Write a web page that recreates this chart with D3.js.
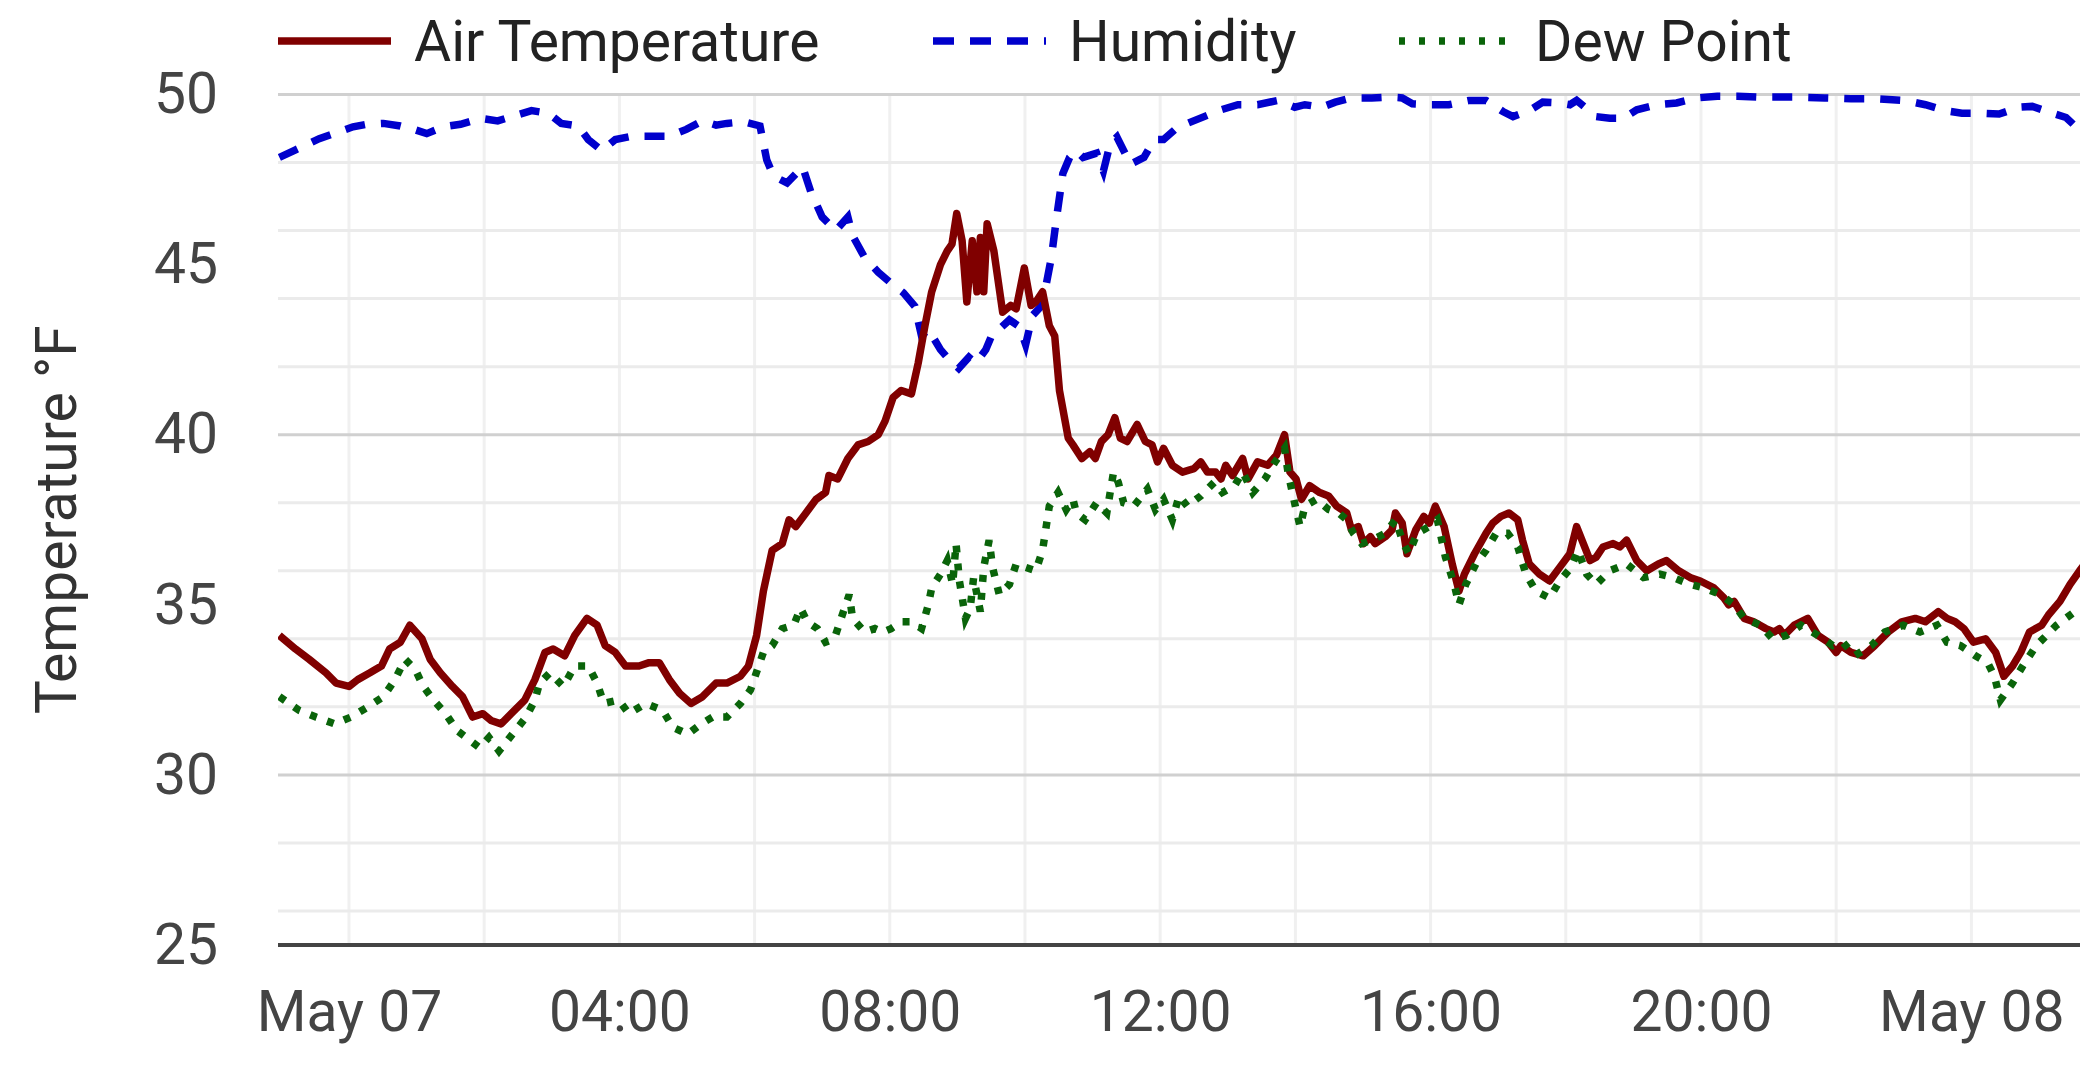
<!DOCTYPE html>
<html>
<head>
<meta charset="utf-8">
<script src="https://cdn.jsdelivr.net/npm/d3@7"></script>
<style>
	body { margin: 0; background: #fff; }
	svg { display: block; font-family: Roboto, "Noto Sans", sans-serif; }
</style>
</head>
<body>
<div id="chart"></div>
<script>
// hours after May 07 00:00, value
const air_temp = [
	[-1.03,34.1],[-0.79,33.7],[-0.59,33.4],[-0.34,33.0],[-0.19,32.7],[0.0,32.6],[0.13,32.8],[0.31,33.0],
	[0.48,33.2],[0.6,33.7],[0.76,33.9],[0.9,34.4],[1.08,34.0],[1.2,33.4],[1.35,33.0],[1.53,32.6],
	[1.68,32.3],[1.83,31.7],[1.98,31.8],[2.1,31.6],[2.25,31.5],[2.4,31.8],[2.6,32.2],[2.75,32.8],
	[2.9,33.6],[3.02,33.7],[3.19,33.5],[3.34,34.1],[3.52,34.6],[3.67,34.4],[3.79,33.8],[3.94,33.6],
	[4.09,33.2],[4.29,33.2],[4.44,33.3],[4.59,33.3],[4.74,32.8],[4.89,32.4],[5.06,32.1],[5.23,32.3],
	[5.43,32.7],[5.59,32.7],[5.79,32.9],[5.91,33.2],[6.03,34.1],[6.13,35.4],[6.26,36.6],[6.41,36.8],
	[6.51,37.5],[6.61,37.3],[6.76,37.7],[6.91,38.1],[7.05,38.3],[7.1,38.8],[7.23,38.7],[7.38,39.3],
	[7.53,39.7],[7.68,39.8],[7.83,40.0],[7.93,40.4],[8.05,41.1],[8.17,41.3],[8.32,41.2],[8.42,42.1],
	[8.52,43.2],[8.62,44.2],[8.75,45.0],[8.85,45.4],[8.92,45.6],[8.99,46.5],[9.07,45.7],[9.14,43.9],
	[9.22,45.7],[9.29,44.2],[9.34,45.8],[9.39,44.2],[9.44,46.2],[9.54,45.4],[9.67,43.6],[9.79,43.8],
	[9.87,43.7],[9.99,44.9],[10.09,43.8],[10.16,43.9],[10.26,44.2],[10.36,43.2],[10.44,42.9],[10.51,41.3],
	[10.64,39.9],[10.71,39.7],[10.84,39.3],[10.96,39.5],[11.04,39.3],[11.13,39.8],[11.23,40.0],[11.33,40.5],
	[11.41,39.9],[11.51,39.8],[11.66,40.3],[11.78,39.8],[11.88,39.7],[11.96,39.2],[12.05,39.6],[12.18,39.1],
	[12.33,38.9],[12.5,39.0],[12.6,39.2],[12.7,38.9],[12.82,38.9],[12.9,38.7],[12.97,39.1],[13.07,38.8],
	[13.22,39.3],[13.3,38.7],[13.44,39.2],[13.59,39.1],[13.72,39.4],[13.84,40.0],[13.92,38.9],[14.01,38.7],
	[14.09,38.1],[14.21,38.5],[14.36,38.3],[14.49,38.2],[14.61,37.9],[14.76,37.7],[14.83,37.2],[14.93,37.3],
	[15.01,36.8],[15.11,37.0],[15.18,36.8],[15.33,37.0],[15.43,37.2],[15.48,37.7],[15.58,37.4],[15.65,36.5],
	[15.78,37.2],[15.9,37.6],[15.98,37.4],[16.07,37.9],[16.2,37.3],[16.32,36.2],[16.42,35.4],[16.5,35.9],
	[16.65,36.5],[16.82,37.1],[16.92,37.4],[17.04,37.6],[17.16,37.7],[17.29,37.5],[17.36,36.9],[17.46,36.2],
	[17.61,35.9],[17.76,35.7],[17.91,36.1],[18.06,36.5],[18.16,37.3],[18.26,36.8],[18.36,36.3],[18.45,36.4],
	[18.55,36.7],[18.7,36.8],[18.8,36.7],[18.9,36.9],[19.05,36.3],[19.2,36.0],[19.37,36.2],[19.49,36.3],
	[19.67,36.0],[19.84,35.8],[19.99,35.7],[20.19,35.5],[20.34,35.2],[20.41,35.0],[20.49,35.1],[20.64,34.6],
	[20.78,34.5],[20.96,34.3],[21.08,34.2],[21.16,34.3],[21.23,34.1],[21.38,34.4],[21.58,34.6],[21.73,34.1],
	[21.88,33.9],[22.0,33.6],[22.07,33.8],[22.22,33.6],[22.4,33.5],[22.57,33.8],[22.77,34.2],[22.97,34.5],
	[23.17,34.6],[23.32,34.5],[23.51,34.8],[23.64,34.6],[23.76,34.5],[23.89,34.3],[24.03,33.9],[24.21,34.0],
	[24.36,33.6],[24.43,33.2],[24.48,32.9],[24.61,33.2],[24.73,33.6],[24.86,34.2],[25.04,34.4],[25.14,34.7],
	[25.31,35.1],[25.46,35.6],[25.6,36.0],[25.75,36.4]
];

const humidity = [
	[-1.03,92.6],[-0.79,93.5],[-0.44,94.8],[-0.19,95.5],[0.06,96.2],[0.26,96.5],[0.51,96.6],[0.76,96.3],
	[0.96,95.9],[1.15,95.4],[1.4,96.2],[1.65,96.5],[1.95,97.2],[2.2,96.9],[2.45,97.5],[2.7,98.1],
	[2.95,97.8],[3.14,96.6],[3.39,96.3],[3.54,94.7],[3.74,93.4],[3.94,94.7],[4.19,95.1],[4.44,95.1],
	[4.74,95.1],[4.99,95.9],[5.23,96.9],[5.43,96.4],[5.59,96.6],[5.84,96.8],[6.08,96.3],[6.18,92.3],
	[6.28,90.4],[6.48,89.6],[6.71,91.5],[6.83,88.6],[7.0,85.6],[7.2,84.0],[7.38,85.6],[7.45,83.4],
	[7.63,80.8],[7.83,79.1],[8.02,77.8],[8.2,76.7],[8.37,75.1],[8.47,71.6],[8.57,72.4],[8.75,70.0],
	[8.87,68.9],[9.02,67.8],[9.17,69.1],[9.27,68.4],[9.42,70.0],[9.52,71.9],[9.62,72.4],[9.77,73.5],
	[9.92,72.7],[10.01,70.6],[10.11,74.0],[10.24,75.1],[10.31,77.5],[10.39,80.8],[10.46,85.1],[10.56,90.7],
	[10.66,92.6],[10.76,93.4],[10.86,92.6],[11.06,93.1],[11.16,91.0],[11.26,94.2],[11.36,95.0],[11.56,91.8],
	[11.76,92.6],[11.91,94.7],[12.05,94.7],[12.25,96.1],[12.4,96.6],[12.65,97.4],[12.9,98.2],[13.15,98.8],
	[13.44,98.8],[13.74,99.3],[13.99,98.5],[14.14,98.8],[14.39,98.5],[14.59,99.1],[14.83,99.6],[15.13,99.6],
	[15.38,99.7],[15.58,99.6],[15.73,98.9],[15.98,98.8],[16.27,98.8],[16.57,99.3],[16.82,99.3],[17.07,98.0],
	[17.22,97.4],[17.46,98.1],[17.66,99.1],[17.91,99.0],[18.06,98.8],[18.16,99.3],[18.45,97.4],[18.65,97.2],
	[18.85,97.2],[19.05,98.2],[19.35,98.8],[19.64,99.0],[19.94,99.6],[20.24,99.8],[20.54,99.8],[20.83,99.7],
	[21.13,99.7],[21.43,99.7],[21.83,99.6],[22.22,99.5],[22.62,99.5],[23.02,99.3],[23.32,98.8],[23.61,98.1],
	[23.86,97.8],[24.16,97.8],[24.41,97.7],[24.71,98.5],[24.9,98.6],[25.2,97.8],[25.4,97.3],[25.6,95.8],
	[25.75,94.8]
];

const dew_point = [
	[-1.03,32.3],[-0.74,31.9],[-0.49,31.7],[-0.21,31.5],[0.03,31.7],[0.28,32.0],[0.51,32.3],[0.68,32.8],
	[0.83,33.4],[0.98,33.1],[1.1,32.6],[1.25,32.2],[1.43,31.8],[1.6,31.3],[1.8,31.0],[1.93,30.8],
	[2.07,31.1],[2.22,30.7],[2.42,31.2],[2.62,31.7],[2.75,32.2],[2.82,32.7],[2.97,33.0],[3.17,32.6],
	[3.34,33.2],[3.54,33.2],[3.67,32.7],[3.77,32.1],[3.99,32.2],[4.14,31.8],[4.39,32.1],[4.64,31.9],
	[4.79,31.4],[5.01,31.2],[5.21,31.5],[5.38,31.7],[5.59,31.7],[5.79,32.1],[5.94,32.5],[6.06,33.2],
	[6.13,33.6],[6.26,33.8],[6.41,34.3],[6.58,34.4],[6.68,34.9],[6.78,34.5],[6.93,34.3],[7.05,33.9],
	[7.18,34.0],[7.28,34.6],[7.4,35.3],[7.45,34.6],[7.63,34.2],[7.78,34.3],[7.9,34.2],[8.02,34.3],
	[8.17,34.5],[8.32,34.5],[8.47,34.3],[8.57,35.0],[8.62,35.5],[8.75,35.9],[8.85,36.3],[8.93,35.6],
	[8.98,36.8],[9.03,35.7],[9.08,35.1],[9.12,34.6],[9.19,34.9],[9.24,35.8],[9.29,35.3],[9.34,34.8],
	[9.39,36.1],[9.47,36.9],[9.52,36.1],[9.62,35.3],[9.77,35.6],[9.87,36.2],[10.01,36.1],[10.16,36.0],
	[10.26,36.6],[10.36,37.9],[10.49,38.3],[10.61,37.8],[10.71,38.1],[10.76,37.7],[10.89,37.5],[11.06,38.0],
	[11.21,37.7],[11.31,38.9],[11.38,38.6],[11.46,38.0],[11.61,37.9],[11.81,38.4],[11.93,37.8],[12.05,38.1],
	[12.18,37.5],[12.28,38.2],[12.4,37.9],[12.6,38.2],[12.8,38.6],[12.92,38.3],[13.1,38.5],[13.22,38.9],
	[13.37,38.3],[13.55,38.7],[13.7,39.2],[13.84,39.6],[13.89,38.9],[14.01,37.8],[14.07,37.3],[14.14,37.9],
	[14.31,38.1],[14.49,37.8],[14.64,37.7],[14.76,37.5],[14.86,37.1],[14.98,36.8],[15.13,36.9],[15.33,37.1],
	[15.48,37.5],[15.6,36.8],[15.68,36.5],[15.8,37.1],[15.98,37.3],[16.1,37.5],[16.22,36.4],[16.35,35.6],
	[16.42,35.0],[16.52,35.6],[16.67,36.2],[16.82,36.6],[16.97,37.1],[17.14,37.1],[17.29,36.7],[17.41,35.9],
	[17.56,35.4],[17.76,35.2],[17.91,35.7],[18.08,36.1],[18.18,36.6],[18.31,35.9],[18.45,35.6],[18.65,36.0],
	[18.9,36.2],[19.15,35.8],[19.39,35.9],[19.59,35.8],[19.84,35.6],[20.04,35.5],[20.29,35.3],[20.49,35.0],
	[20.64,34.6],[20.88,34.4],[21.06,34.0],[21.26,34.1],[21.48,34.4],[21.73,34.1],[21.95,33.8],[22.1,33.9],
	[22.27,33.5],[22.52,33.8],[22.72,34.2],[22.99,34.4],[23.24,34.2],[23.49,34.4],[23.64,33.9],[23.84,33.8],
	[24.06,33.5],[24.24,33.3],[24.34,32.9],[24.43,32.2],[24.61,32.7],[24.76,33.2],[24.96,33.8],[25.26,34.4],
	[25.53,34.8],[25.75,35.0]
];

const temp_ticks = [25, 30, 35, 40, 45, 50];
const legend_names = ["Air Temperature", "Humidity", "Dew Point"];

// styles
const c_air = '#800000',
	c_hum = '#0000cc',
	c_dew = '#0a640a',
	c_grid_major = '#d0d0d0',
	c_grid_minor = '#ebebeb',
	c_grid_v = '#f0f0f0',
	c_axis = '#444',
	c_text = '#444';

const font_size = 57;
const line_w = 7.5;
const W = 2080, H = 1079;
const plot_left = 278, plot_top = 94.5, plot_bottom = 945;
const hour_px = 67.6;
const h_start = -1.05, h_end = 26.6;

const base = new Date(2019, 4, 7, 0, 0, 0);
function to_date(h) {
	return new Date(base.getTime() + h * 3600e3);
}

function chart() {
	let svg = d3.select("#chart")
		.append("svg")
		.attr("width", W)
		.attr("height", H);

	// scales
	let x = d3.scaleTime()
		.domain([to_date(h_start), to_date(h_end)])
		.range([plot_left, plot_left + (h_end - h_start) * hour_px]);

	let y = d3.scaleLinear()
		.domain([25, 50])
		.range([plot_bottom, plot_top]);

	// humidity lives on a 0-100 % axis sharing the plot height
	let y_hum = d3.scaleLinear()
		.domain([0, 100])
		.range([plot_bottom, plot_top]);

	svg.append("defs").append("clipPath")
		.attr("id", "clip")
		.append("rect")
		.attr("x", plot_left)
		.attr("y", 0)
		.attr("width", W - plot_left)
		.attr("height", plot_bottom + 2);

	// grid
	let grid = svg.append("g").attr("clip-path", "url(#clip)");

	grid.selectAll(".vgrid")
		.data(x.ticks(d3.timeHour.every(2)))
		.enter()
		.append("line")
		.attr("x1", d => x(d))
		.attr("x2", d => x(d))
		.attr("y1", plot_top)
		.attr("y2", plot_bottom)
		.attr("stroke", c_grid_v)
		.attr("stroke-width", 3);

	grid.selectAll(".hgrid")
		.data(y.ticks(10).filter(d => d > 25))
		.enter()
		.append("line")
		.attr("x1", plot_left)
		.attr("x2", W)
		.attr("y1", d => y(d))
		.attr("y2", d => y(d))
		.attr("stroke", d => (d % 5 === 0) ? c_grid_major : c_grid_minor)
		.attr("stroke-width", 3);

	// axes
	let x_axis = svg.append("g")
		.attr("transform", "translate(0," + plot_bottom + ")")
		.call(d3.axisBottom(x)
			.ticks(d3.timeHour.every(4))
			.tickSize(0)
			.tickPadding(46)
			.tickFormat(d => d.getHours() === 0 ? d3.timeFormat("%b %d")(d) : d3.timeFormat("%H:%M")(d))
		);
	x_axis.select(".domain").remove();

	let y_axis = svg.append("g")
		.attr("transform", "translate(" + plot_left + ",0)")
		.call(d3.axisLeft(y)
			.tickValues(temp_ticks)
			.tickSize(0)
			.tickPadding(60)
		);
	y_axis.select(".domain").remove();

	svg.selectAll(".tick text")
		.attr("font-family", "Roboto")
		.attr("font-size", font_size)
		.attr("fill", c_text);

	svg.append("line")
		.attr("x1", plot_left)
		.attr("x2", W)
		.attr("y1", plot_bottom)
		.attr("y2", plot_bottom)
		.attr("stroke", c_axis)
		.attr("stroke-width", 4);

	svg.append("text")
		.attr("transform", "translate(76," + ((plot_top + plot_bottom) / 2) + ") rotate(-90)")
		.attr("text-anchor", "middle")
		.attr("font-size", font_size)
		.attr("fill", "#333")
		.text("Temperature °F");

	// lines
	let plot = svg.append("g").attr("clip-path", "url(#clip)");

	let line_t = d3.line()
		.x(d => x(to_date(d[0])))
		.y(d => y(d[1]));

	let line_h = d3.line()
		.x(d => x(to_date(d[0])))
		.y(d => y_hum(d[1]));

	plot.append("path")
		.datum(humidity)
		.attr("d", line_h)
		.attr("fill", "none")
		.attr("stroke", c_hum)
		.attr("stroke-width", line_w)
		.attr("stroke-dasharray", "20,16");

	plot.append("path")
		.datum(air_temp)
		.attr("d", line_t)
		.attr("fill", "none")
		.attr("stroke", c_air)
		.attr("stroke-width", line_w)
		.attr("stroke-linejoin", "round");

	plot.append("path")
		.datum(dew_point)
		.attr("d", line_t)
		.attr("fill", "none")
		.attr("stroke", c_dew)
		.attr("stroke-width", line_w)
		.attr("stroke-dasharray", "7,11");

	// legend
	const legend_x = [278, 933, 1399];
	const legend_style = [
		{ color: c_air, dash: null },
		{ color: c_hum, dash: "21,16" },
		{ color: c_dew, dash: "6,14" }
	];

	let legend = svg.append("g").attr("id", "legend");
	legend_names.forEach(function(name, i) {
		let item = legend.append("g")
			.attr("transform", "translate(" + legend_x[i] + ",41)");
		item.append("line")
			.attr("x1", 0)
			.attr("x2", 113)
			.attr("y1", 0)
			.attr("y2", 0)
			.attr("stroke", legend_style[i].color)
			.attr("stroke-width", line_w)
			.attr("stroke-dasharray", legend_style[i].dash);
		item.append("text")
			.attr("x", 136)
			.attr("y", 20)
			.attr("font-size", font_size)
			.attr("fill", "#222")
			.text(name);
	});
}

window.onload = function() {
	chart();
}
</script>
</body>
</html>
